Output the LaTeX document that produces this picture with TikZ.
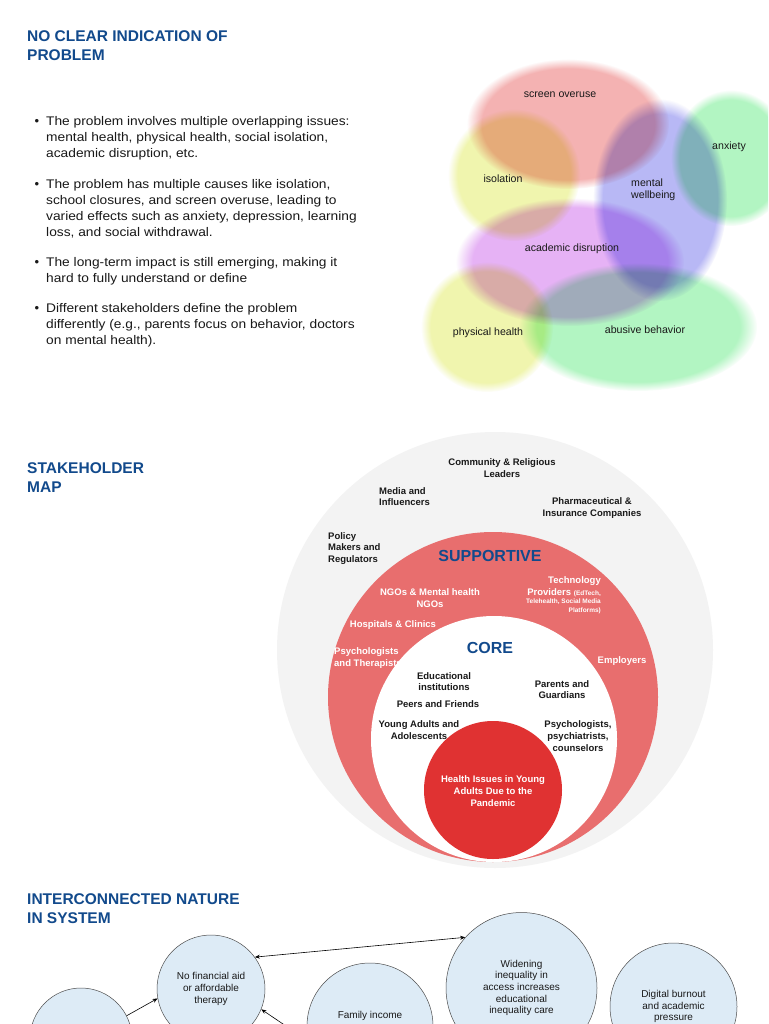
\documentclass[tikz,border=0pt]{standalone}
\usepackage{fontspec}
\setmainfont{Liberation Sans}
\newfontfamily\widefont[FakeStretch=1.1]{Liberation Sans}
\usetikzlibrary{fadings,arrows.meta}
\definecolor{ttl}{RGB}{18,74,140}
\definecolor{vpink}{RGB}{244,178,178}
\definecolor{vyellow}{RGB}{240,245,174}
\definecolor{vlav}{RGB}{184,184,245}
\definecolor{vgreen}{RGB}{178,245,194}
\definecolor{vpurple}{RGB}{230,178,245}
\definecolor{skgray}{RGB}{243,243,243}
\definecolor{skring}{RGB}{232,110,110}
\definecolor{skcore}{RGB}{224,50,50}
\definecolor{cblue}{RGB}{221,235,246}
\definecolor{txt}{RGB}{25,25,25}
\begin{document}
\begin{tikzpicture}[x=1pt,y=-1pt,
  title/.style={anchor=west, align=left, text=ttl, inner sep=0pt, font=\bfseries\fontsize{15.5}{19}\selectfont},
  body/.style={anchor=west, align=left, text=txt, inner sep=0pt, font=\widefont\fontsize{12.5}{16}\selectfont},
  bul/.style={text=txt, inner sep=0pt, font=\fontsize{13}{14}\selectfont},
  vlab/.style={text=txt, inner sep=0pt, align=left, font=\fontsize{10.6}{12}\selectfont},
  blob/.style={path fading=circle with fuzzy edge 15 percent, blend mode=multiply},
  sk/.style={inner sep=0pt, align=center, font=\bfseries\fontsize{9.5}{11.6}\selectfont},
  skd/.style={sk, text=txt},
  skw/.style={sk, text=white},
  skws/.style={inner sep=0pt, text=white, font=\bfseries\fontsize{6.5}{8}\selectfont},
  ringlab/.style={inner sep=0pt, text=ttl, font=\bfseries\fontsize{16}{18}\selectfont},
  bc/.style={circle, draw=black!70, line width=0.5pt, fill=cblue, inner sep=0pt, align=center, text=txt, font=\fontsize{10}{11.6}\selectfont},
  arr/.style={-{Stealth[length=5pt,width=4pt]}, line width=0.6pt},
  darr/.style={{Stealth[length=5pt,width=4pt]}-{Stealth[length=5pt,width=4pt]}, line width=0.6pt}]
\useasboundingbox (0,0) rectangle (768,1024);
\clip (0,0) rectangle (768,1024);
\fill[white] (0,0) rectangle (768,1024);

% ---------- Section 1 ----------
\node[title] (t1) at (27,45.5) {NO CLEAR INDICATION OF\\PROBLEM};
\node[bul] (b1) at (37,122) {\textbullet};
\node[body] (p1) at (46,138) {The problem involves multiple overlapping issues:\\mental health, physical health, social isolation,\\academic disruption, etc.};
\node[bul] (b2) at (37,185) {\textbullet};
\node[body] (p2) at (46,208.5) {The problem has multiple causes like isolation,\\school closures, and screen overuse, leading to\\varied effects such as anxiety, depression, learning\\loss, and social withdrawal.};
\node[bul] (b3) at (37,263) {\textbullet};
\node[body] (p3) at (46,271) {The long-term impact is still emerging, making it\\hard to fully understand or define};
\node[bul] (b4) at (37,309) {\textbullet};
\node[body] (p4) at (46,325) {Different stakeholders define the problem\\differently (e.g., parents focus on behavior, doctors\\on mental health).};

% Venn-like blobs
\fill[vpink,blob]   (568,124) ellipse [x radius=101pt, y radius=65pt];
\fill[vyellow,blob] (514,175) ellipse [x radius=66pt, y radius=66pt];
\fill[vlav,blob]    (660,200) ellipse [x radius=67pt, y radius=101pt];
\fill[vgreen,blob]  (731,158) ellipse [x radius=60pt, y radius=68pt];
\fill[vpurple,blob] (570,262) ellipse [x radius=114pt, y radius=64pt];
\fill[vyellow,blob] (487,327) ellipse [x radius=66pt, y radius=65pt];
\fill[vgreen,blob]  (638,327) ellipse [x radius=119pt, y radius=64pt];
\node[vlab] (vscreen) at (560,95) {screen overuse};
\node[vlab] (viso) at (503,179) {isolation};
\node[vlab, anchor=west] (vmental) at (631,190) {mental\\wellbeing};
\node[vlab] (vanx) at (729,147) {anxiety};
\node[vlab] (vacad) at (572,249) {academic disruption};
\node[vlab] (vphys) at (488,333) {physical health};
\node[vlab] (vabuse) at (645,330) {abusive behavior};

% ---------- Section 2 ----------
\node[title] (t2) at (27,477.5) {STAKEHOLDER\\MAP};
\fill[skgray] (495,650) circle [radius=218pt];
\fill[skring] (493,697) circle [radius=165pt];

\node[skd] (comm) at (502,468) {Community \& Religious\\Leaders};
\node[skd, anchor=west, align=left] (media) at (379,496.5) {Media and\\Influencers};
\node[skd] (pharma) at (592,508) {Pharmaceutical \&\\Insurance Companies};
\node[skd, anchor=west, align=left] (policy) at (328,548.5) {Policy\\Makers and\\Regulators};
\node[ringlab] (supp) at (490,556) {SUPPORTIVE};

\node[skw, anchor=east] (tech1) at (601,581) {Technology};
\node[skw, anchor=base east] (tech2) at (601,595.4) {Providers {\fontsize{6.5}{8}\selectfont (EdTech,}};
\node[skws, anchor=east] (tech3) at (601,602) {Telehealth, Social Media};
\node[skws, anchor=east] (tech4) at (601,610.5) {Platforms)};
\node[skw] (ngo) at (430,598) {NGOs \& Mental health\\NGOs};
\node[skw] (hosp) at (393,625) {Hospitals \& Clinics};
\node[skw, anchor=west, align=left] (psyther) at (334,658) {Psychologists\\and Therapists};
\node[skw] (empl) at (622,661) {Employers};

\fill[white] (494,739) circle [radius=123pt];
\node[ringlab] (core) at (490,648) {CORE};
\node[skd] (edu) at (444,681.5) {Educational\\institutions};
\node[skd] (peers) at (438,704.5) {Peers and Friends};
\node[skd] (young) at (419,730) {Young Adults and\\Adolescents};
\node[skd] (parents) at (562,689.5) {Parents and\\Guardians};
\node[skd] (psych) at (578,736) {Psychologists,\\psychiatrists,\\counselors};

\fill[skcore] (493,790) circle [radius=69pt];
\node[skw] (health) at (493,791) {Health Issues in Young\\Adults Due to the\\Pandemic};

% ---------- Section 3 ----------
\node[title] (t3) at (27,909) {INTERCONNECTED NATURE\\IN SYSTEM};
\node[bc, minimum size=102pt] (lc) at (81,1039) {};
\node[bc, minimum size=108pt] (nofin) at (211,989) {No financial aid\\or affordable\\therapy};
\node[bc, minimum size=126pt] (fam) at (370,1026) {Family income\\\phantom{x}\\\phantom{x}};
\node[bc, minimum size=151pt] (wid) at (521.5,988) {Widening\\inequality in\\access increases\\educational\\inequality care};
\node[bc, minimum size=127pt] (dig) at (673.5,1006.5) {Digital burnout\\and academic\\pressure};

\draw[arr] (lc.27) -- (nofin.190);
\draw[arr] (fam.194) -- (nofin.-22);
\draw[darr] (nofin.36) -- (wid.138);
\end{tikzpicture}
\end{document}
